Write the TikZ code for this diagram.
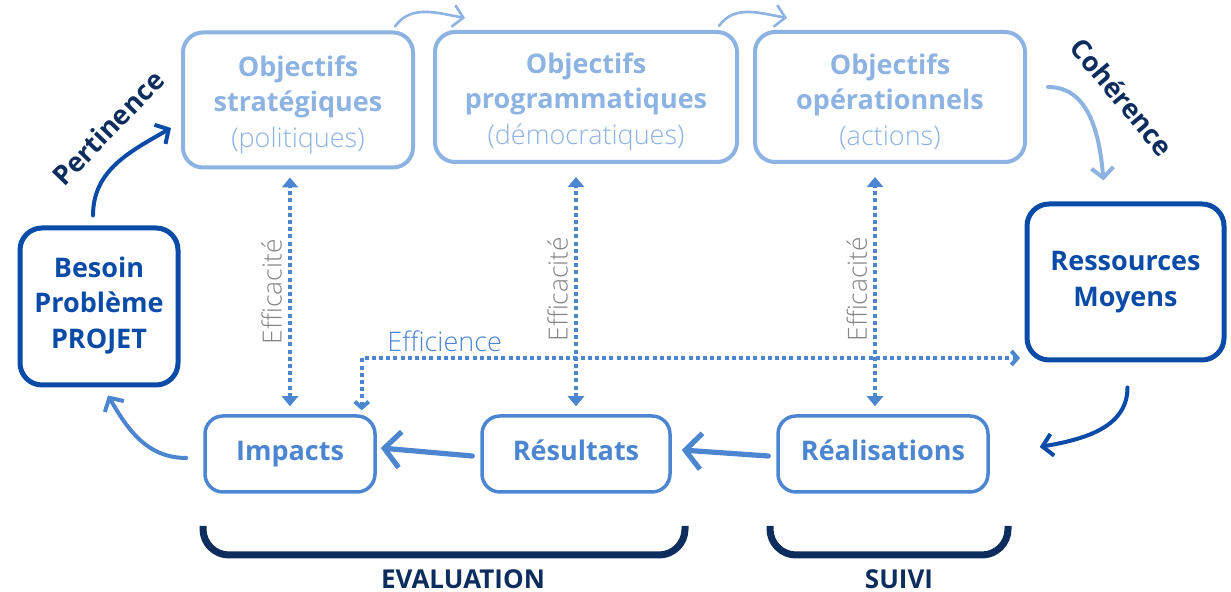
\documentclass[tikz,border=0pt]{standalone}
\usepackage{fontspec}
\setmainfont{Open Sans}
\newfontfamily\lightfont{Open Sans Light}
\usetikzlibrary{arrows.meta,positioning}

\definecolor{pale}{HTML}{8DB3E3}
\definecolor{mid}{HTML}{4C86D1}
\definecolor{deep}{HTML}{0B4BA8}
\definecolor{navy}{HTML}{0D2D5E}
\definecolor{greytxt}{HTML}{858585}

\newcommand{\topstrut}{\rule{0pt}{15pt}}

\tikzset{
  obj/.style={draw=pale, line width=2pt, rounded corners=10pt, text=pale, align=center,
    font=\bfseries\fontsize{13.5}{17.75}\selectfont},
  keybox/.style={draw=deep, line width=2.5pt, rounded corners=11pt, text=deep, align=center,
    font=\bfseries\fontsize{13.5}{17.75}\selectfont},
  stage/.style={draw=mid, line width=1.75pt, rounded corners=9pt, text=mid, align=center,
    minimum height=38pt, text height=10pt, text depth=3pt,
    font=\bfseries\fontsize{13.5}{17.75}\selectfont},
  swing/.style={line width=2pt, line cap=round, -{Straight Barb[length=5pt,width=11pt]}},
  push/.style={draw=mid, line width=2.6pt, line cap=round, -{Straight Barb[length=8pt,width=18pt]}},
  effic/.style={draw=mid, line width=2pt, dash pattern=on 2pt off 1.6pt,
    {Triangle[length=5pt,width=8pt]}-{Triangle[length=5pt,width=8pt]}},
  efftext/.style={text=greytxt, font=\lightfont\fontsize{13.2}{15}\selectfont, inner sep=3pt},
  tilted/.style={text=navy, font=\bfseries\fontsize{13.5}{16}\selectfont},
  bracket/.style={draw=navy, line width=3.5pt, rounded corners=13pt},
  bracketlabel/.style={text=navy, font=\bfseries\fontsize{13}{15}\selectfont}
}

\begin{document}
\begin{tikzpicture}[x=0.5pt, y=0.5pt]
  \useasboundingbox (0,0) rectangle (1231,592);

  % objectifs
  \node[obj, minimum width=115pt, minimum height=67.5pt] (strat) at (298,492)
    {\topstrut Objectifs\\stratégiques\\{\mdseries\lightfont (politiques)}};
  \node[obj, minimum width=151pt, minimum height=65pt] (prog) at (586,495)
    {\topstrut Objectifs\\programmatiques\\{\mdseries\lightfont (démocratiques)}};
  \node[obj, minimum width=135pt, minimum height=65pt] (oper) at (890,495)
    {\topstrut Objectifs\\opérationnels\\{\mdseries\lightfont (actions)}};

  \node[keybox, minimum width=79pt, minimum height=78.5pt] (besoin) at (99,285.5)
    {Besoin\\Problème\\PROJET\rule[-4pt]{0pt}{0pt}};
  \node[keybox, minimum width=98.5pt, minimum height=78pt] (ress) at (1125.5,310)
    {Ressources\\Moyens};

  \node[stage, minimum width=85pt] (impacts) at (290,138) {Impacts};
  \node[stage, minimum width=94pt] (resultats) at (576,138) {Résultats};
  \node[stage, minimum width=105pt] (realis) at (883,138) {Réalisations};

  \coordinate (effend) at (1020,234);

  % cycle
  \draw[swing, deep] ([xshift=-3pt,yshift=5pt]besoin.north) to[out=90,in=210]
    ([xshift=-5pt,yshift=-14pt]strat.west);
  \draw[swing, pale, line width=1.3pt] ([xshift=-10pt,yshift=2pt]strat.north east) to[out=55,in=170]
    ([xshift=16pt,yshift=6pt]prog.north west);
  \draw[swing, pale, line width=1.3pt] ([xshift=-10pt,yshift=2pt]prog.north east) to[out=55,in=170]
    ([xshift=17pt,yshift=6pt]oper.north west);
  \draw[swing, pale] ([xshift=10.5pt,yshift=5pt]oper.east) to[out=0,in=95]
    ([xshift=-11pt,yshift=10.5pt]ress.north);
  \draw[swing, deep] ([xshift=1pt,yshift=-12.5pt]ress.south) to[out=-90,in=10]
    ([xshift=25pt,yshift=3.5pt]realis.east);
  \draw[swing, mid] ([xshift=-8.5pt,yshift=-2pt]impacts.west) to[out=180,in=-60]
    ([xshift=4.5pt,yshift=-4pt]besoin.south);

  \draw[push] ([xshift=-4pt,yshift=-1pt]realis.west) -- ([xshift=5pt,yshift=2pt]resultats.east);
  \draw[push] ([xshift=-4pt,yshift=-1pt]resultats.west) -- ([xshift=2pt,yshift=3pt]impacts.east);

  % efficacite
  \draw[effic, shorten <=4pt, shorten >=4pt] (impacts.north) -- (impacts.north |- strat.south)
    node[midway, above, sloped, efftext] {Efficacité};
  \draw[effic, shorten <=4pt, shorten >=6.5pt] (resultats.north) -- (resultats.north |- prog.south)
    node[midway, above, sloped, efftext] {Efficacité};
  \draw[effic, shorten <=4pt, shorten >=6.5pt] ([xshift=-4pt]realis.north) -- ([xshift=-4pt]realis.north |- oper.south)
    node[midway, above, sloped, efftext] {Efficacité};

  % efficience
  \draw[draw=mid, line width=2pt, dash pattern=on 2pt off 1.6pt, shorten <=2pt,
    {Straight Barb[length=3pt,width=7pt]}-{Straight Barb[length=3pt,width=7pt]}]
    ([xshift=-7.5pt]impacts.north east) |- (effend)
    node[pos=0.563, above, text=mid, font=\lightfont\fontsize{13.5}{15}\selectfont, inner sep=2pt] {Efficience};

  \node[tilted, rotate=46] (pert) at (108,464) {Pertinence};
  \node[tilted, rotate=-50] (coh) at (1122,495) {Cohérence};

  % brackets
  \draw[bracket] (203,66) -- (203,37) -- (685,37) -- (685,66);
  \draw[bracket] (770,66) -- (770,37) -- (1008,37) -- (1008,66);
  \node[bracketlabel] (evallbl) at (463,13) {EVALUATION};
  \node[bracketlabel] (suivilbl) at (899,13) {SUIVI};
\end{tikzpicture}
\end{document}
